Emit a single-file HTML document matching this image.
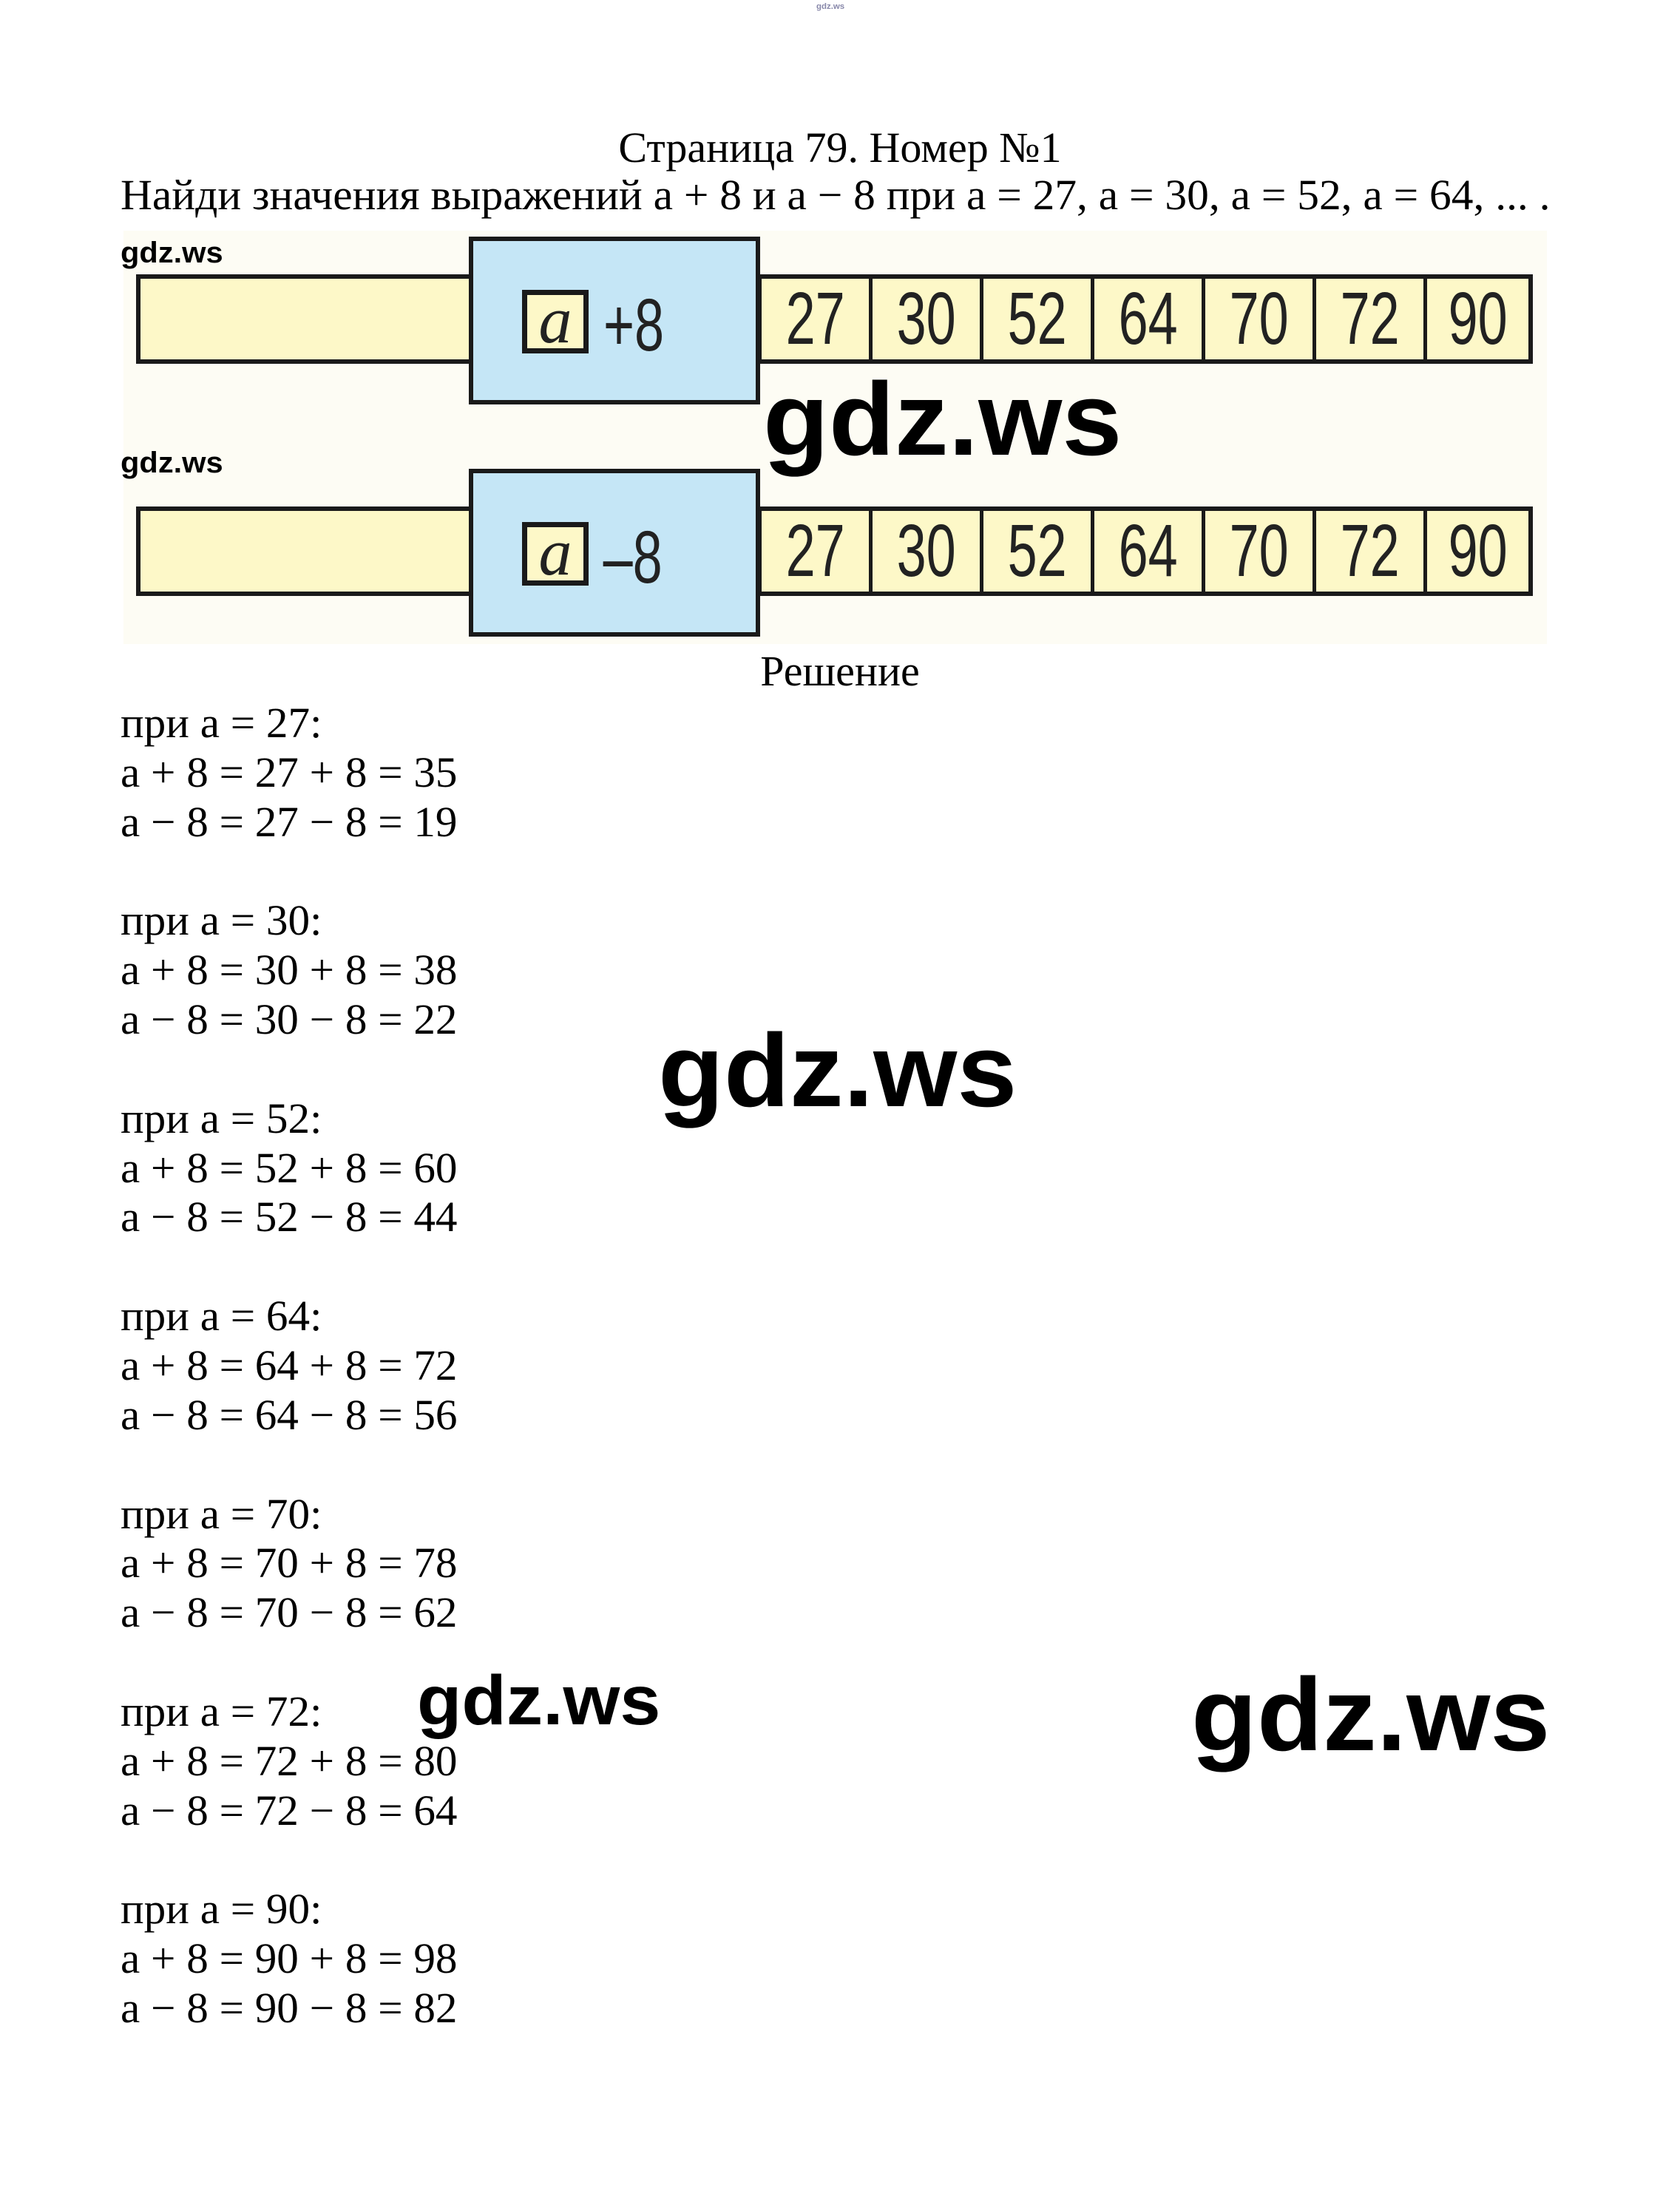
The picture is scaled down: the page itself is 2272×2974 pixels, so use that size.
<!DOCTYPE html>
<html><head><meta charset="utf-8">
<style>
html,body{margin:0;padding:0}
body{width:2272px;height:2974px;background:#fff;position:relative;overflow:hidden;font-family:"Liberation Serif",serif;color:#000}
.t{position:absolute;font-size:58px;line-height:66.85px;white-space:pre;transform-origin:0 0}
.w{position:absolute;font-family:"Liberation Sans",sans-serif;font-weight:bold;line-height:1;white-space:pre;color:#000;transform:scaleX(1.04);transform-origin:0 0}
.bar{position:absolute;background:#fdf8c8;border:6px solid #1a1a1a;box-sizing:border-box}
.blue{position:absolute;background:#c5e6f6;border:6px solid #1a1a1a;box-sizing:border-box}
.cell{position:absolute;top:0;height:100%;border-right:5px solid #1a1a1a;box-sizing:border-box;display:flex;align-items:center;justify-content:center;font-family:"Liberation Sans",sans-serif;font-size:100px;color:#222}
.cell span,.op span{display:inline-block;transform:scaleX(0.72)}
.abox{position:absolute;left:66px;width:90px;height:86px;background:#fdf8c8;border:7px solid #1a1a1a;box-sizing:border-box;font-family:"Liberation Serif",serif;font-style:italic;font-size:90px;line-height:70px;text-align:center;color:#222}
.op{position:absolute;left:160px;font-family:"Liberation Sans",sans-serif;font-size:100px;color:#222;line-height:1}
</style></head><body>
<div class="w" style="left:1104px;top:4px;font-size:11px;color:#88a">gdz.ws</div>

<div class="t" style="left:0;width:2272px;text-align:center;top:167px">Страница 79. Номер №1</div>
<div class="t" style="left:163px;top:231px;transform:scaleX(1.025)">Найди значения выражений а + 8 и а − 8 при а = 27, а = 30, а = 52, а = 64, ... .</div>

<div style="position:absolute;left:167px;top:312px;width:1925px;height:559px;background:#fdfcf4"></div>

<div class="bar" style="left:184px;top:371px;width:460px;height:121px"></div>
<div class="bar" style="left:1024px;top:371px;width:1049px;height:121px">
 <div class="cell" style="left:0;width:150px"><span>27</span></div>
 <div class="cell" style="left:150px;width:150px"><span>30</span></div>
 <div class="cell" style="left:300px;width:150px"><span>52</span></div>
 <div class="cell" style="left:450px;width:150px"><span>64</span></div>
 <div class="cell" style="left:600px;width:150px"><span>70</span></div>
 <div class="cell" style="left:750px;width:150px"><span>72</span></div>
 <div class="cell" style="left:900px;width:137px;border-right:none"><span>90</span></div>
</div>
<div class="blue" style="left:634px;top:320px;width:394px;height:227px">
 <div class="abox" style="top:66px">a</div>
 <div class="op" style="top:64px"><span>+8</span></div>
</div>

<div class="bar" style="left:184px;top:685px;width:460px;height:121px"></div>
<div class="bar" style="left:1024px;top:685px;width:1049px;height:121px">
 <div class="cell" style="left:0;width:150px"><span>27</span></div>
 <div class="cell" style="left:150px;width:150px"><span>30</span></div>
 <div class="cell" style="left:300px;width:150px"><span>52</span></div>
 <div class="cell" style="left:450px;width:150px"><span>64</span></div>
 <div class="cell" style="left:600px;width:150px"><span>70</span></div>
 <div class="cell" style="left:750px;width:150px"><span>72</span></div>
 <div class="cell" style="left:900px;width:137px;border-right:none"><span>90</span></div>
</div>
<div class="blue" style="left:634px;top:634px;width:394px;height:227px">
 <div class="abox" style="top:66px">a</div>
 <div class="op" style="top:64px"><span>–8</span></div>
</div>

<div class="w" style="left:163px;top:322px;font-size:40px">gdz.ws</div>
<div class="w" style="left:163px;top:606px;font-size:40px">gdz.ws</div>
<div class="w" style="left:1032px;top:497px;font-size:140px">gdz.ws</div>

<div class="t" style="left:0;width:2272px;text-align:center;top:875px">Решение</div>
<div class="t" style="left:163px;top:945px;transform:scaleX(1.02)">при а = 27:
а + 8 = 27 + 8 = 35
а − 8 = 27 − 8 = 19

при а = 30:
а + 8 = 30 + 8 = 38
а − 8 = 30 − 8 = 22

при а = 52:
а + 8 = 52 + 8 = 60
а − 8 = 52 − 8 = 44

при а = 64:
а + 8 = 64 + 8 = 72
а − 8 = 64 − 8 = 56

при а = 70:
а + 8 = 70 + 8 = 78
а − 8 = 70 − 8 = 62

при а = 72:
а + 8 = 72 + 8 = 80
а − 8 = 72 − 8 = 64

при а = 90:
а + 8 = 90 + 8 = 98
а − 8 = 90 − 8 = 82</div>

<div class="w" style="left:890px;top:1378px;font-size:140px">gdz.ws</div>
<div class="w" style="left:564px;top:2253px;font-size:95px">gdz.ws</div>
<div class="w" style="left:1611px;top:2249px;font-size:140px">gdz.ws</div>
</body></html>
